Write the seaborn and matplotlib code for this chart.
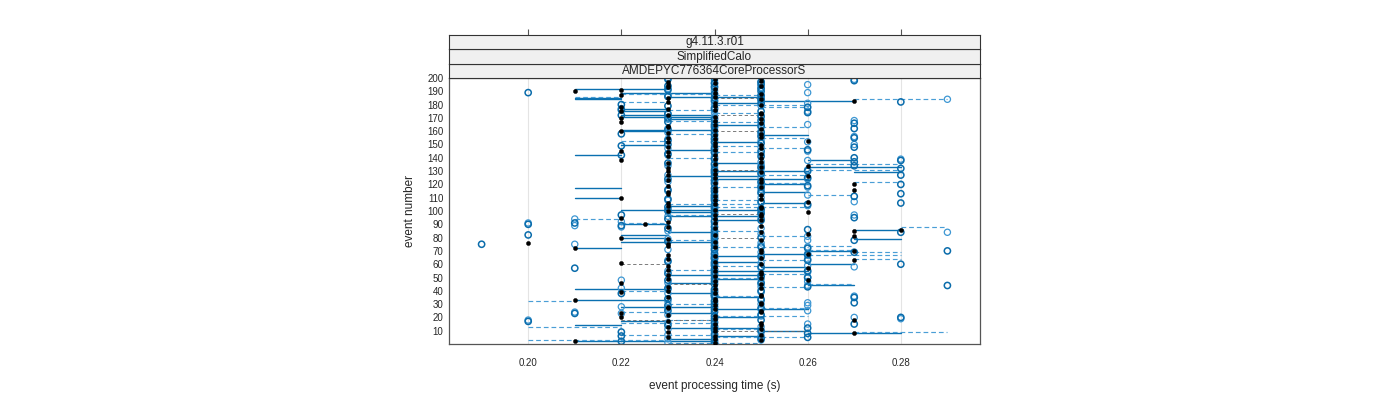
import numpy as np
import matplotlib
matplotlib.use("Agg")
import matplotlib.pyplot as plt
import seaborn as sns
import pandas as pd

sns.set_style("white")
plt.rcParams['font.family'] = ['Liberation Sans', 'DejaVu Sans']

strip_labels = ["g4.11.3.r01", "SimplifiedCalo", "AMDEPYC776364CoreProcessorS"]
x_ticks = [0.20, 0.22, 0.24, 0.26, 0.28]
y_ticks = list(range(10, 201, 10))

# event processing times per run (hundredths of a second), events 1..200
run_a = [24, 21, 25, 24, 23, 24, 25, 27, 23, 24,
         25, 24, 23, 25, 24, 25, 23, 27, 24, 22,
         24, 23, 22, 25, 25, 24, 23, 23, 24, 25,
         25, 24, 21, 24, 23, 25, 25, 24, 22, 23,
         24, 25, 23, 24, 25, 22, 24, 26, 23, 25,
         24, 23, 25, 25, 24, 23, 26, 24, 23, 25,
         22, 24, 27, 23, 25, 24, 23, 26, 25, 27,
         25, 21, 24, 23, 23, 20, 24, 25, 23, 22,
         27, 24, 26, 25, 27, 28, 24, 23, 25, 22.5,
         24, 23, 25, 24, 22, 25, 24, 25, 26, 23,
         24, 25, 25, 23, 24, 23, 26, 24, 25, 22,
         24, 25, 23, 23, 24, 27, 24, 25, 23, 27,
         24, 25, 23, 25, 24, 26, 23, 24, 25, 23,
         24, 23, 25, 26, 24, 23, 25, 22, 24, 25,
         23, 24, 25, 23, 22, 24, 25, 23, 24, 25,
         24, 23, 26, 24, 23, 25, 24, 25, 23, 22,
         24, 25, 23, 23, 24, 25, 22, 24, 25, 22,
         24, 23, 25, 25, 22, 24, 23, 22, 24, 25,
         24, 23, 27, 25, 23, 24, 22, 25, 24, 21,
         22, 24, 23, 25, 23, 24, 23, 25, 24, 25]

run_b = [24, 22, 24, 25, 26, 22, 24, 26, 22, 25,
         24, 26, 24, 23, 27, 24, 20, 25, 24, 28,
         24, 25, 21, 24, 23, 24, 25, 24, 23, 24,
         27, 24, 25, 23, 27, 24, 24, 22, 24, 25,
         24, 23, 26, 29, 24, 25, 24, 23, 24, 26,
         25, 24, 23, 24, 26, 24, 21, 25, 24, 28,
         24, 23, 26, 24, 24, 25, 26, 24, 27, 29,
         24, 26, 25, 24, 19, 24, 23, 27, 24, 25,
         24, 20, 24, 28, 24, 26, 23, 24, 22, 20,
         21, 24, 25, 23, 27, 24, 22, 25, 24, 23,
         25, 24, 23, 24, 26, 28, 25, 24, 23, 24,
         27, 24, 28, 25, 24, 23, 24, 25, 26, 28,
         24, 25, 24, 23, 26, 24, 28, 25, 24, 26,
         24, 28, 25, 27, 24, 23, 27, 28, 24, 27,
         25, 22, 23, 24, 25, 26, 24, 27, 22, 23,
         25, 24, 23, 24, 27, 25, 24, 22, 25, 24,
         23, 27, 24, 25, 24, 27, 23, 25, 24, 23,
         25, 22, 23, 26, 25, 22, 24, 26, 23, 22,
         25, 28, 24, 25, 24, 23, 25, 24, 20, 25,
         23, 25, 24, 23, 25, 24, 25, 27, 23, 24]

run_c = [23, 24, 25, 23, 24, 25, 23, 24, 25, 24,
         23, 24, 25, 24, 26, 23, 24, 20, 28, 27,
         25, 23, 22, 21, 26, 25, 23, 22, 26, 25,
         26, 23, 24, 25, 24, 27, 24, 23, 25, 24,
         23, 22, 25, 26, 25, 23, 26, 22, 25, 26,
         24, 25, 24, 26, 23, 24, 25, 27, 26, 24,
         25, 24, 23, 26, 25, 24, 24, 26, 25, 24,
         23, 24, 26, 25, 21, 25, 24, 26, 23, 24,
         26, 24, 25, 29, 23, 24, 25, 22, 21, 24,
         20, 22, 24, 21, 25, 23, 27, 24, 25, 24,
         23, 25, 24, 26, 24, 25, 27, 23, 24, 25,
         24, 26, 25, 24, 23, 25, 24, 26, 25, 24,
         25, 23, 24, 26, 25, 24, 23, 24, 25, 24,
         26, 25, 24, 23, 25, 24, 25, 26, 28, 24,
         24, 23, 25, 24, 26, 24, 23, 25, 24, 27,
         24, 26, 25, 23, 24, 27, 25, 24, 23, 25,
         24, 23, 25, 24, 26, 25, 24, 27, 23, 24,
         24, 25, 23, 24, 26, 24, 22, 24, 25, 24,
         26, 24, 25, 29, 24, 25, 23, 24, 26, 24,
         24, 23, 25, 24, 26, 24, 25, 24, 27, 23]

# horizontal segments: event, start, end (hundredths of a second)
solid_event = [192, 189, 185, 184, 183, 186, 181, 177, 175, 172, 171, 169, 165, 161,
               160, 157, 152, 150, 146, 142, 138, 136, 133, 130, 129, 126, 124, 120,
               117, 114, 110, 106, 104, 101, 99, 96, 93, 90, 86, 84, 82, 80, 79, 77,
               72, 70, 68, 66, 62, 60, 58, 55, 52, 49, 46, 44, 41, 38, 35, 33, 28,
               26, 23, 20, 17, 14, 12, 10, 8, 6, 4, 2]
solid_start = [21, 22, 21, 21, 25, 23, 24, 22, 22, 22, 22, 23, 24, 22,
               22, 25, 24, 22, 23, 21, 26, 24, 26, 24, 27, 23, 24, 25,
               21, 25, 21, 25, 23, 22, 23, 23, 24, 22, 27, 23, 22, 22, 27, 22,
               21, 26, 25, 24, 24, 26, 25, 24, 23, 24, 23, 26, 21, 23, 24, 21, 22,
               24, 23, 24, 22, 21, 23, 25, 26, 24, 23, 21]
solid_end = [23, 24, 22, 22, 27, 25, 25, 23, 23, 24, 24, 24, 25, 24,
             23, 26, 25, 23, 24, 22, 27, 25, 28, 26, 28, 25, 26, 26,
             22, 26, 22, 26, 24, 25, 24, 25, 25, 23, 28, 24, 23, 23, 28, 24,
             22, 27, 26, 25, 25, 27, 26, 26, 25, 25, 24, 27, 23, 24, 25, 23, 24,
             26, 24, 25, 23, 22, 25, 26, 28, 25, 24, 24]

dash_event = [188, 187, 186, 184, 182, 180, 178, 176, 174, 168, 167, 163, 158, 155,
              153, 149, 147, 144, 140, 135, 131, 127, 122, 121, 118, 112, 108, 105,
              103, 97, 94, 91, 88, 85, 81, 78, 74, 73, 71, 69, 67, 64, 63, 59, 56,
              53, 50, 45, 43, 40, 36, 32, 30, 27, 24, 21, 18, 16, 13, 11, 9, 7, 5,
              3, 1]
dash_start = [22, 24, 21, 27, 22, 24, 25, 23, 24, 23, 24, 25, 23, 25,
              22, 24, 25, 24, 23, 26, 26, 25, 27, 25, 24, 26, 24, 23,
              24, 23, 21, 22, 28, 24, 25, 23, 26, 24, 26, 27, 26, 27, 25, 24, 23,
              25, 24, 26, 25, 22, 24, 20, 23, 25, 22, 24, 23, 22, 20, 24, 27, 22, 24,
              20, 23]
dash_end = [24, 25, 22, 29, 23, 26, 26, 24, 25, 24, 25, 26, 24, 26,
            23, 25, 26, 25, 24, 28, 28, 26, 28, 26, 25, 27, 25, 25,
            26, 24, 22, 23, 29, 25, 26, 24, 27, 26, 27, 28, 28, 28, 26, 25, 24,
            26, 25, 27, 26, 23, 25, 21, 24, 26, 23, 26, 24, 24, 22, 25, 29, 24, 26,
            23, 25]

gray_event = [185, 172, 160, 131, 98, 80, 60, 45, 18, 10]
gray_start = [24, 24, 24, 24, 24, 24, 22, 23, 22, 24]
gray_end = [25, 25, 25, 25, 25, 25, 23, 24, 24, 26]

rows = []
for name, vals in {"a": run_a, "b": run_b, "c": run_c}.items():
    for i, v in enumerate(vals):
        rows.append({"event": i + 1, "time": v / 100.0, "run": name})
pts = pd.DataFrame(rows)

seg_rows = []
sid = 0
for kind, ev, st, en in [("solid", solid_event, solid_start, solid_end),
                         ("dash", dash_event, dash_start, dash_end),
                         ("gray", gray_event, gray_start, gray_end)]:
    for e, s, t in zip(ev, st, en):
        seg_rows.append({"seg": sid, "kind": kind, "event": e, "time": s / 100.0})
        seg_rows.append({"seg": sid, "kind": kind, "event": e, "time": t / 100.0})
        sid += 1
segs = pd.DataFrame(seg_rows)

fig = plt.figure(figsize=(14, 4), dpi=100)
ax = fig.add_axes([449/1400, 1 - 344/400, 531/1400, 266/400])

for xt in x_ticks:
    ax.axvline(xt, color="#e4e4e4", lw=0.8, zorder=0)

sns.lineplot(data=segs, x="time", y="event", units="seg", estimator=None,
             sort=False, hue="kind", style="kind", size="kind",
             palette={"solid": "#0a70b0", "dash": "#4a9ed6", "gray": "#666666"},
             dashes={"solid": "", "dash": (4, 2.5), "gray": (4, 3)},
             sizes={"solid": 1.0, "dash": 0.85, "gray": 0.6},
             legend=False, ax=ax)

sns.scatterplot(data=pts[pts["run"] == "c"], x="time", y="event", color="#3d97d3",
                facecolor="none", edgecolor="#3d97d3", s=20, linewidth=0.9,
                ax=ax, zorder=3)
sns.scatterplot(data=pts[pts["run"] == "b"], x="time", y="event", color="#0a6cab",
                facecolor="none", edgecolor="#0a6cab", s=20, linewidth=1.1,
                ax=ax, zorder=3)
sns.scatterplot(data=pts[pts["run"] == "a"], x="time", y="event", color="black",
                edgecolor="black", s=9, linewidth=0.3, ax=ax, zorder=4)

ax.set_xlim(0.183, 0.297)
ax.set_ylim(0, 200)
ax.set_xticks(x_ticks)
ax.set_xticklabels(["%.2f" % t for t in x_ticks])
ax.set_yticks(y_ticks)
ax.tick_params(axis="x", direction="out", length=4, width=0.8, color="#555555",
               labelsize=7, pad=6)
ax.tick_params(axis="y", length=0, labelsize=7, pad=4)
ax.set_xlabel("event processing time (s)", fontsize=8.5, labelpad=9)
ax.set_ylabel("event number", fontsize=8.5, labelpad=8)
for sp in ax.spines.values():
    sp.set_color("#555555")
    sp.set_linewidth(0.9)

# strips above the panel
strip_h = 14.5 / 400
for k, lab in enumerate(reversed(strip_labels)):
    bottom = 1 - 78/400 + k * strip_h
    sax = fig.add_axes([449/1400, bottom, 531/1400, strip_h], sharex=ax)
    sax.set_facecolor("#f0f0f0")
    sax.set_yticks([])
    sax.tick_params(axis="x", bottom=False, labelbottom=False)
    if k == 2:
        sax.tick_params(axis="x", top=True, direction="out", length=4,
                        width=0.8, color="#555555", labeltop=False)
    for sp in sax.spines.values():
        sp.set_color("#333333")
        sp.set_linewidth(0.8)
    sax.text(0.5, 0.45, lab, transform=sax.transAxes, ha="center",
             va="center", fontsize=8.5, clip_on=True)

fig.savefig("out.png", dpi=100)
